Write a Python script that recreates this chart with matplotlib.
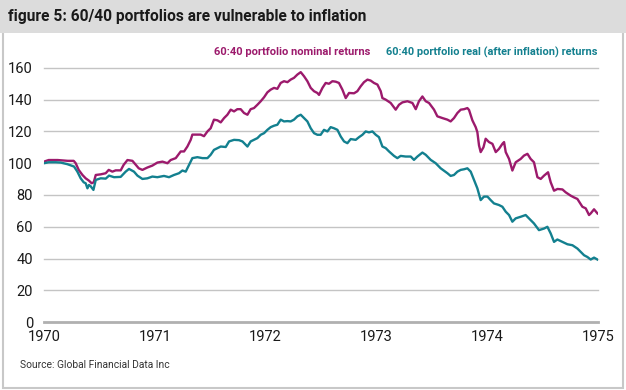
import matplotlib.pyplot as plt
from matplotlib.patches import Rectangle

# values (decimal years since 1970, index level)
nominal_t = [0.000, 0.042, 0.124, 0.214, 0.268, 0.286, 0.313, 0.347, 0.376, 0.406,
             0.430, 0.449, 0.467, 0.512, 0.557, 0.584, 0.617, 0.647, 0.692, 0.719,
             0.753, 0.798, 0.828, 0.855, 0.888, 0.933, 0.978, 1.023, 1.069, 1.114,
             1.143, 1.189, 1.234, 1.264, 1.294, 1.324, 1.339, 1.384, 1.414, 1.444,
             1.475, 1.504, 1.534, 1.565, 1.595, 1.625, 1.655, 1.685, 1.715, 1.745,
             1.775, 1.805, 1.836, 1.865, 1.895, 1.926, 1.956, 1.986, 2.016, 2.046,
             2.076, 2.106, 2.136, 2.166, 2.197, 2.226, 2.256, 2.287, 2.317, 2.347,
             2.377, 2.407, 2.437, 2.467, 2.482, 2.513, 2.542, 2.572, 2.603, 2.633,
             2.662, 2.693, 2.723, 2.753, 2.798, 2.828, 2.858, 2.888, 2.919, 2.948,
             2.978, 3.009, 3.039, 3.054, 3.084, 3.129, 3.174, 3.204, 3.235, 3.280,
             3.325, 3.355, 3.384, 3.415, 3.445, 3.475, 3.520, 3.550, 3.596, 3.641,
             3.670, 3.700, 3.731, 3.761, 3.791, 3.821, 3.836, 3.866, 3.896, 3.911,
             3.926, 3.941, 3.966, 3.986, 4.016, 4.047, 4.077, 4.106, 4.137, 4.152,
             4.167, 4.197, 4.227, 4.257, 4.302, 4.332, 4.363, 4.392, 4.422, 4.453,
             4.483, 4.513, 4.549, 4.573, 4.603, 4.634, 4.679, 4.708, 4.753, 4.783,
             4.814, 4.859, 4.889, 4.919, 4.934, 4.964, 4.995]
nominal = [101, 102, 102, 101.5, 101.5, 100, 95.8, 92.6, 90.5, 89,
           87.4, 88, 92.6, 93, 93.7, 95.8, 94.7, 95.5, 95.5, 99,
           102, 101.5, 99, 96.8, 95.8, 97.3, 98.5, 100.4, 101, 100,
           102, 103.2, 107.4, 107.4, 110.5, 114.7, 118, 118, 118, 117,
           120, 122, 127.4, 127, 125.7, 128.4, 130.5, 133.7, 132.6, 134,
           134, 131.6, 130.5, 134, 134.7, 136.8, 139, 141.5, 144.6, 146.3,
           147.4, 146.8, 150.5, 151.6, 151, 152.6, 153.7, 155.8, 157.3, 154.7,
           151.6, 147.4, 145.3, 144.2, 143, 147.4, 150.5, 150, 151.6, 151.3,
           150.5, 146.3, 141, 144.2, 144, 145.3, 148.4, 151, 152.6, 152,
           150.5, 149.5, 145.3, 141, 140, 137.9, 133.7, 136.8, 138.3, 139,
           137.9, 134, 139, 142, 139, 137.9, 133.7, 129.5, 128.4, 127.4,
           126.3, 128.4, 131.6, 133.7, 134, 134.7, 133.5, 127, 122.7, 119.6,
           111.2, 107, 110, 115.4, 113.3, 112.2, 107, 109, 112.2, 113.3,
           107, 102.7, 95.4, 100.6, 102.7, 104.8, 105.9, 102.7, 100.6, 91.2,
           90.1, 92.2, 94.3, 88, 82.7, 83.8, 83.5, 81.7, 79.6, 78.5,
           77.5, 72.6, 71.6, 67.4, 68.4, 71, 68.4]

real_t = [0.000, 0.042, 0.106, 0.151, 0.211, 0.271, 0.301, 0.331, 0.358, 0.376,
          0.392, 0.406, 0.421, 0.446, 0.467, 0.512, 0.557, 0.587, 0.632, 0.692,
          0.737, 0.767, 0.812, 0.843, 0.888, 0.933, 0.978, 1.023, 1.083, 1.128,
          1.173, 1.218, 1.249, 1.279, 1.309, 1.339, 1.384, 1.430, 1.475, 1.504,
          1.534, 1.565, 1.595, 1.640, 1.670, 1.715, 1.760, 1.791, 1.820, 1.836,
          1.865, 1.895, 1.926, 1.956, 1.986, 2.016, 2.046, 2.076, 2.106, 2.136,
          2.166, 2.197, 2.226, 2.256, 2.287, 2.317, 2.347, 2.377, 2.407, 2.437,
          2.467, 2.497, 2.527, 2.558, 2.587, 2.617, 2.648, 2.678, 2.708, 2.738,
          2.768, 2.813, 2.843, 2.874, 2.903, 2.933, 2.964, 2.994, 3.023, 3.054,
          3.084, 3.114, 3.159, 3.189, 3.219, 3.264, 3.310, 3.339, 3.370, 3.415,
          3.445, 3.490, 3.535, 3.580, 3.641, 3.670, 3.700, 3.731, 3.761, 3.791,
          3.821, 3.851, 3.881, 3.911, 3.941, 3.971, 4.002, 4.031, 4.061, 4.106,
          4.137, 4.167, 4.197, 4.227, 4.257, 4.302, 4.347, 4.377, 4.422, 4.467,
          4.513, 4.543, 4.573, 4.603, 4.633, 4.679, 4.724, 4.769, 4.814, 4.844,
          4.874, 4.904, 4.934, 4.964, 4.995]
real = [100, 100.6, 100.6, 100.4, 99.4, 97.9, 94.7, 90.5, 88, 87.4,
        84.2, 86.3, 85.5, 83.2, 89.5, 90.5, 90.3, 92.2, 91.2, 91.4,
        94.7, 96.4, 94.7, 92.2, 90.1, 90.5, 91.6, 91.2, 92, 91.2,
        92.6, 93.7, 95.4, 94.7, 98.9, 103.2, 103.8, 103.2, 103.2, 105.3,
        108.4, 109.5, 110.5, 110.2, 113.7, 114.7, 114.5, 113.7, 111.6, 110.5,
        113.7, 114.7, 115.8, 117.9, 118.9, 121, 122.7, 123.6, 124.2, 127.4,
        126.3, 126.5, 126.3, 127.4, 129.5, 130.5, 128.4, 126.3, 122, 118.9,
        117.9, 117.9, 121, 120, 122.7, 122, 121, 116.8, 113.7, 112.6,
        115.2, 114.7, 116.4, 117.9, 120, 119.4, 120, 117.9, 116.4, 110.5,
        109.5, 107.4, 104.6, 103.2, 104.6, 104.2, 104.2, 102.1, 104.2, 106.7,
        105.3, 102.1, 100, 96.8, 93.7, 92, 92.6, 94.7, 95.8, 96.2,
        96.8, 94.7, 89.5, 84.2, 76.8, 79, 79, 76.8, 74.7, 73.7,
        72.6, 69.5, 67.4, 63.2, 65.3, 66.3, 67.4, 65.3, 62.1, 57.9,
        58.9, 60, 55.8, 50.5, 52, 50.5, 49, 48.4, 46.3, 44.2,
        42.1, 41, 39.4, 40.6, 39.4]

years = [1970, 1971, 1972, 1973, 1974, 1975]
y_ticks = [0, 20, 40, 60, 80, 100, 120, 140, 160]

magenta = '#9c1a6c'
teal = '#13808f'

plt.rcParams['font.family'] = ['Roboto', 'DejaVu Sans']

fig = plt.figure(figsize=(6.26, 3.9), dpi=100)
W = 626


def fit(t, width_px):
    # shrink/grow a text so it spans about the same width as in the reference
    r = fig.canvas.get_renderer()
    w = t.get_window_extent(r).width
    t.set_fontsize(t.get_fontsize() * width_px / w)


# outer frame and title band
fig.patches.append(Rectangle((0.004, 0.006), 0.992, 0.99, transform=fig.transFigure,
                             facecolor='none', edgecolor='#c8c8c8', lw=1.5, zorder=-2))
fig.patches.append(Rectangle((0.0, 0.915), 1.0, 0.085, transform=fig.transFigure,
                             facecolor='#dcdcdc', edgecolor='none', zorder=-1))
title = fig.text(8 / W, 0.957, 'figure 5: 60/40 portfolios are vulnerable to inflation',
                 fontsize=12, fontweight='bold', color='#1a1a1a', va='center', ha='left')
fit(title, 358)

ax = fig.add_axes([0.0703, 0.174, 0.885, 0.652])
ax.set_facecolor('none')
ax.plot([1970 + t for t in nominal_t], nominal, color=magenta, lw=1.7, zorder=3)
ax.plot([1970 + t for t in real_t], real, color=teal, lw=1.7, zorder=3)

ax.set_xlim(1970, 1975)
ax.set_ylim(0, 160)
ax.set_yticks(y_ticks)
ax.set_xticks(years)
ax.set_xticklabels([str(y) for y in years])
for v in y_ticks[1:]:
    ax.axhline(v, color='#c4c4c4', lw=1.0, zorder=1, clip_on=False)
ax.axhline(0, color='#b0b0b0', lw=2.0, zorder=1, clip_on=False)
for s in ax.spines.values():
    s.set_visible(False)
ax.tick_params(length=0, labelsize=10.5, colors='#1a1a1a')
ax.tick_params(axis='y', pad=8)
ax.tick_params(axis='x', pad=6)

lab1 = fig.text(370 / W, 0.866, '60:40 portfolio nominal returns', color=magenta,
                fontsize=10, fontweight='bold', ha='right', va='center')
fit(lab1, 157)
lab2 = fig.text(597 / W, 0.866, '60:40 portfolio real (after inflation) returns', color=teal,
                fontsize=10, fontweight='bold', ha='right', va='center')
fit(lab2, 212)

src = fig.text(20 / W, 0.064, 'Source: Global Financial Data Inc', fontsize=8.5,
               color='#333333', ha='left', va='center')
fit(src, 148)

plt.savefig('out.png', dpi=100)
